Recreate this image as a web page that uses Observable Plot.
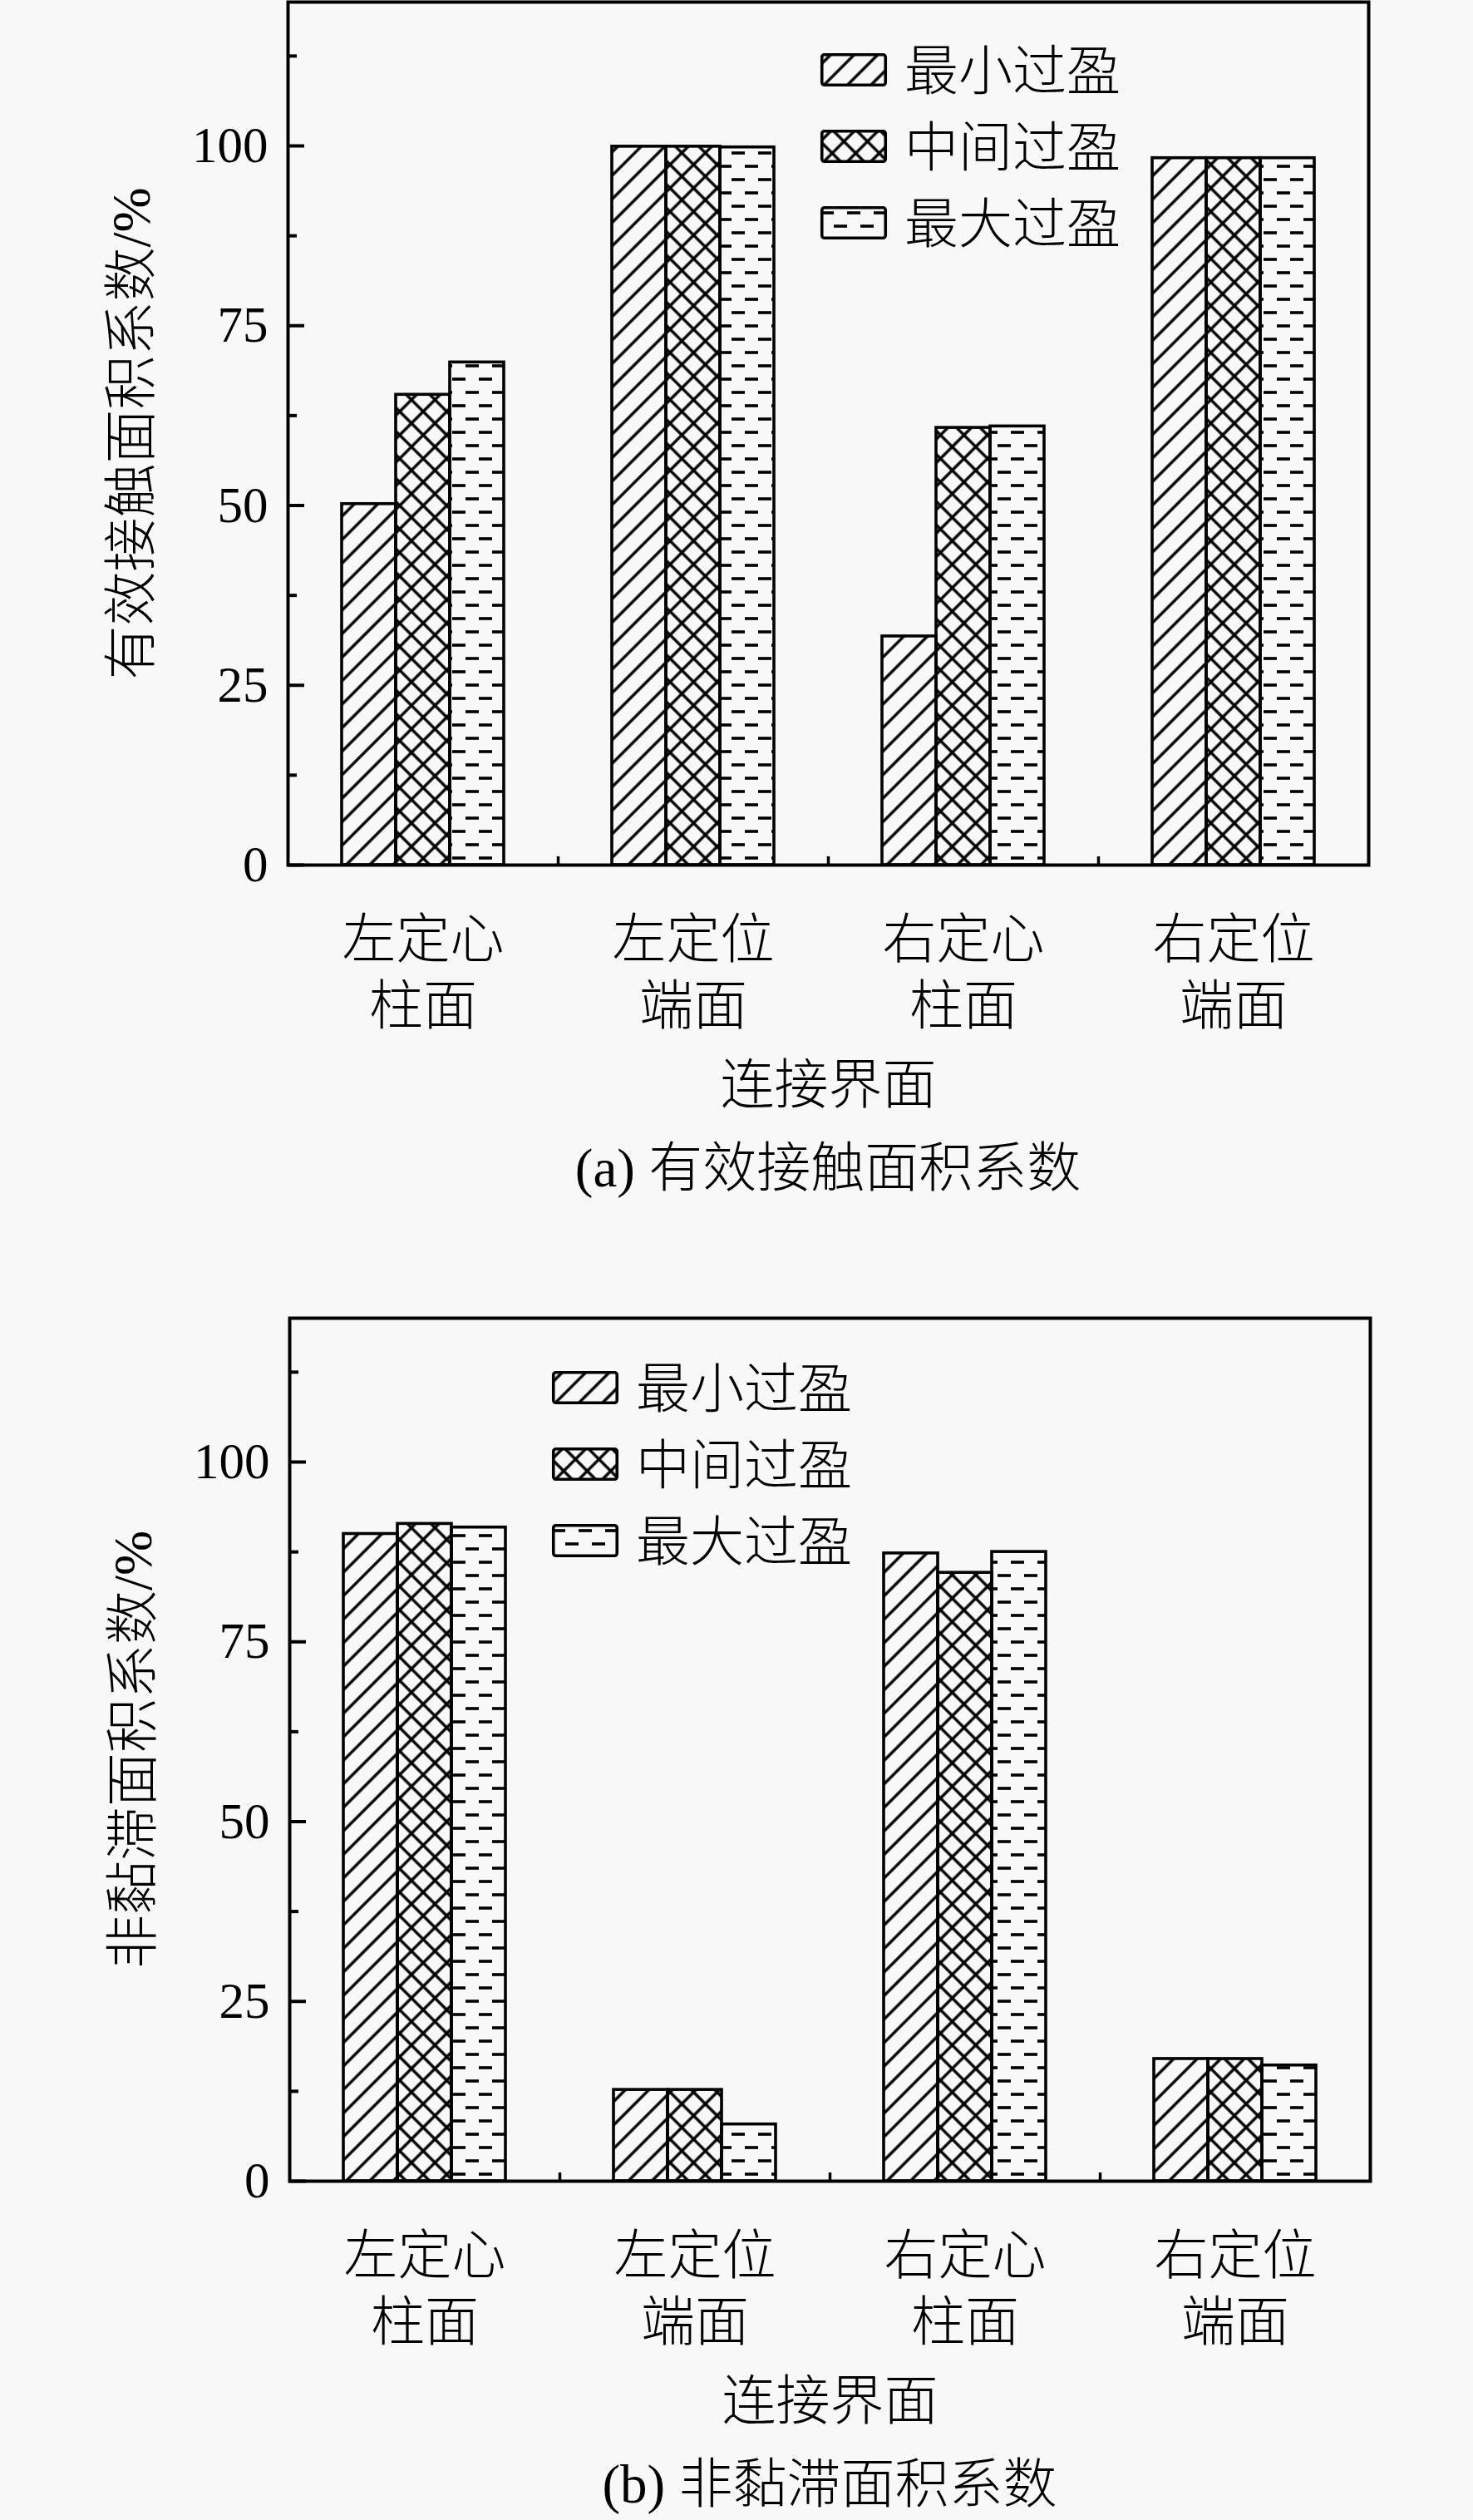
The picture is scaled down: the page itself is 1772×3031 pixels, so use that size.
<!DOCTYPE html>
<html>
<head>
<meta charset="utf-8">
<script src="https://cdn.jsdelivr.net/npm/d3@7"></script>
<script src="https://cdn.jsdelivr.net/npm/@observablehq/plot@0.6"></script>
<style>
  html, body { margin: 0; padding: 0; background: #f8f8f8; }
  #page { position: relative; width: 1772px; height: 3031px; background: #f8f8f8; overflow: hidden;
          font-family: "Liberation Serif", "Noto Sans CJK SC", serif; color: #000; }
  .panel { position: absolute; left: 0; }
  .caption { position: absolute; font-size: 65px; line-height: 65px; text-align: center; white-space: nowrap; color: #000; font-weight: 300; }
  .legend-text { position: absolute; font-size: 65px; line-height: 65px; white-space: nowrap; color: #000; font-weight: 300; }
  .swatch { position: absolute; overflow: visible; }
</style>
</head>
<body>
<div id="page"></div>
<script>
// ---------------- data ----------------
const categories = ["左定心\n柱面", "左定位\n端面", "右定心\n柱面", "右定位\n端面"];
const seriesNames = ["最小过盈", "中间过盈", "最大过盈"];
const yTicks = [0, 25, 50, 75, 100];
const yMinorTicks = [12.5, 37.5, 62.5, 87.5, 112.5];
const yDomain = [0, 120];
const xLabel = "连接界面";

// (a) 有效接触面积系数
const contactMin = [50.2, 99.9, 31.8, 98.3];
const contactMid = [65.4, 99.9, 60.8, 98.3];
const contactMax = [69.9, 99.8, 61.0, 98.3];
const contactYLabel = "有效接触面积系数/%";
const contactCaption = "(a) 有效接触面积系数";

// (b) 非黏滞面积系数
const nonStickMin = [90.0, 12.7, 87.3, 17.0];
const nonStickMid = [91.4, 12.7, 84.6, 17.0];
const nonStickMax = [90.9, 7.9, 87.5, 16.1];
const nonStickYLabel = "非黏滞面积系数/%";
const nonStickCaption = "(b) 非黏滞面积系数";

// ---------------- drawing ----------------
const CJK = '"Liberation Serif", "Noto Sans CJK SC", sans-serif';
const page = document.getElementById("page");

function patternDefs(p) {
  return `
  <pattern id="${p}-0" patternUnits="userSpaceOnUse" width="20" height="20" patternTransform="rotate(45)">
    <line x1="10" y1="-1" x2="10" y2="21" stroke="#000" stroke-width="3.4"/>
  </pattern>
  <pattern id="${p}-1" patternUnits="userSpaceOnUse" width="20" height="20" patternTransform="rotate(45)">
    <line x1="10" y1="-1" x2="10" y2="21" stroke="#000" stroke-width="3.4"/>
    <line x1="-1" y1="10" x2="21" y2="10" stroke="#000" stroke-width="3.4"/>
  </pattern>
  <pattern id="${p}-2" patternUnits="userSpaceOnUse" width="32" height="32">
    <rect x="0" y="6.2" width="16" height="3.6" fill="#000"/>
    <rect x="16" y="22.2" width="16" height="3.6" fill="#000"/>
  </pattern>`;
}

function drawPanel({id, top, marginLeft, marginRight, series, yLabel, caption, legendLeft, legendTop}) {
  const slot = 1 / (seriesNames.length + 2); // each category band holds pad + 3 bars + pad
  const barMarks = series.map((vals, j) =>
    Plot.rectY(categories, {
      x1: (d, i) => i + slot * (j + 1),
      x2: (d, i) => i + slot * (j + 2),
      y: (d, i) => vals[i],
      fill: `url(#${id}-${j})`,
      stroke: "#000",
      strokeWidth: 3.6
    })
  );
  const svg = Plot.plot({
    width: 1772,
    height: 1360,
    marginTop: 2,
    marginBottom: 320,
    marginLeft,
    marginRight,
    x: {domain: [0, categories.length]},
    y: {domain: yDomain},
    style: {background: "transparent", color: "#000", fontFamily: CJK, overflow: "visible"},
    marks: [
      ...barMarks,
      Plot.axisY({ticks: yTicks, tickSize: -20, tickFormat: () => "", strokeWidth: 4, label: null}),
      Plot.axisY({ticks: yMinorTicks, tickSize: -11, tickFormat: () => "", strokeWidth: 4, label: null}),
      Plot.axisY({ticks: yTicks, tickSize: 0, tickPadding: 24, fontSize: 61, fontFamily: "Liberation Serif", label: null}),
      Plot.axisX({ticks: d3.range(1, categories.length), tickSize: -10, tickFormat: () => "", strokeWidth: 3.5, label: null}),
      Plot.frame({stroke: "#000", strokeWidth: 4}),
      Plot.text(categories, {
        x: (d, i) => i + 0.5, frameAnchor: "bottom", dy: 126, lineAnchor: "middle",
        lineHeight: 1.23, fontSize: 65, fontFamily: CJK, fontWeight: 300, fill: "#000"
      }),
      Plot.text([xLabel], {frameAnchor: "bottom", dy: 266, lineAnchor: "middle", fontSize: 65, fontFamily: CJK, fontWeight: 300, fill: "#000"}),
      Plot.text([yLabel], {frameAnchor: "left", dx: -187, rotate: -90, lineAnchor: "middle", textAnchor: "middle", fontSize: 65, fontFamily: CJK, fontWeight: 300, fill: "#000"})
    ]
  });
  d3.select(svg).insert("defs", ":first-child").html(patternDefs(id));
  svg.classList.add("panel");
  svg.style.top = top + "px";
  svg.style.maxWidth = "none";
  page.appendChild(svg);

  // legend
  seriesNames.forEach((name, j) => {
    const y = legendTop + j * 92;
    const sw = document.createElementNS("http://www.w3.org/2000/svg", "svg");
    sw.setAttribute("class", "swatch");
    sw.setAttribute("width", 80);
    sw.setAttribute("height", 40);
    sw.style.left = legendLeft + "px";
    sw.style.top = y + "px";
    sw.innerHTML = `<defs>${patternDefs(id + "-lg")}</defs>
      <rect x="1.75" y="1.75" width="76.5" height="36.5" rx="3" fill="url(#${id}-lg-${j})" stroke="#000" stroke-width="3.6"/>`;
    page.appendChild(sw);
    const t = document.createElement("div");
    t.className = "legend-text";
    t.textContent = name;
    t.style.left = (legendLeft + 101) + "px";
    t.style.top = (y + 20 - 30) + "px";
    page.appendChild(t);
  });

  // caption below the chart
  const c = document.createElement("div");
  c.className = "caption";
  c.textContent = caption;
  c.style.left = marginLeft + "px";
  c.style.width = (1772 - marginLeft - marginRight) + "px";
  c.style.top = (top + 2 + 1038 + 363 - 30) + "px";
  page.appendChild(c);
}

drawPanel({
  id: "pa", top: 0, marginLeft: 346, marginRight: 126,
  series: [contactMin, contactMid, contactMax],
  yLabel: contactYLabel, caption: contactCaption,
  legendLeft: 987, legendTop: 64
});
drawPanel({
  id: "pb", top: 1583, marginLeft: 348, marginRight: 124,
  series: [nonStickMin, nonStickMid, nonStickMax],
  yLabel: nonStickYLabel, caption: nonStickCaption,
  legendLeft: 664, legendTop: 1649
});
</script>
</body>
</html>
